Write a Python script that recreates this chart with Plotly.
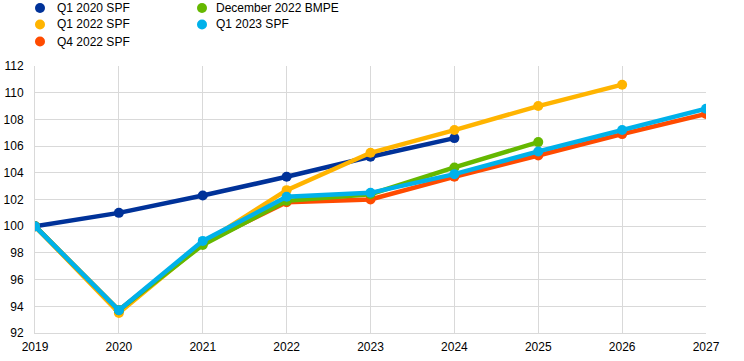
import plotly.graph_objects as go

years = [2019, 2020, 2021, 2022, 2023, 2024, 2025, 2026, 2027]

q1_2020_spf = [100.0, 101.0, 102.3, 103.7, 105.2, 106.6]
q1_2022_spf = [100.0, 93.5, 98.7, 102.7, 105.5, 107.2, 109.0, 110.6]
q4_2022_spf = [100.0, 93.7, 98.7, 101.8, 102.0, 103.7, 105.3, 106.9, 108.4]
dec_2022_bmpe = [100.0, 93.7, 98.6, 101.9, 102.4, 104.4, 106.3]
q1_2023_spf = [100.0, 93.7, 98.9, 102.2, 102.5, 103.9, 105.6, 107.2, 108.8]

y_ticks = [92, 94, 96, 98, 100, 102, 104, 106, 108, 110, 112]

names = ["Q1 2020 SPF", "Q1 2022 SPF", "Q4 2022 SPF", "December 2022 BMPE", "Q1 2023 SPF"]
values = [q1_2020_spf, q1_2022_spf, q4_2022_spf, dec_2022_bmpe, q1_2023_spf]
colors = ["#003299", "#FFB400", "#FF4B00", "#65B800", "#00B1EA"]

# page layout (pixels)
W, H = 744, 361
ML, MR, MT, MB = 35, 38, 66, 28
PW, PH = W - ML - MR, H - MT - MB

def px_to_paper_x(px):
    return (px - ML) / PW

def px_to_paper_y(py):
    return (H - MB - py) / PH

# legend slots: (marker centre x, text start x, row centre y)
legend_slots = [(40, 55, 8), (40, 55, 24.5), (40, 55, 41.5), (202, 214, 8), (202, 214, 24.5)]

fig = go.Figure()
for name, vals, color in zip(names, values, colors):
    fig.add_trace(go.Scatter(
        x=years[:len(vals)], y=vals, mode="lines+markers", name=name,
        line=dict(color=color, width=4.5), marker=dict(color=color, size=10),
        showlegend=False,
    ))

shapes = []
annotations = []
for name, color, (mx, tx, ry) in zip(names, colors, legend_slots):
    shapes.append(dict(
        type="circle", xref="paper", yref="paper",
        xsizemode="pixel", ysizemode="pixel",
        xanchor=px_to_paper_x(mx), yanchor=px_to_paper_y(ry),
        x0=-5, x1=5, y0=-5, y1=5,
        fillcolor=color, line=dict(width=0), layer="above",
    ))
    annotations.append(dict(
        text=name, xref="paper", yref="paper",
        x=px_to_paper_x(tx), y=px_to_paper_y(ry),
        xanchor="left", yanchor="middle", showarrow=False,
        font=dict(size=12, color="#000000"),
    ))

fig.update_layout(
    width=W, height=H,
    margin=dict(l=ML, r=MR, t=MT, b=MB, autoexpand=False),
    paper_bgcolor="white", plot_bgcolor="white",
    font=dict(family="Liberation Sans, Arial, sans-serif", size=12, color="#000000"),
    showlegend=False,
    shapes=shapes, annotations=annotations,
    xaxis=dict(
        range=[2019, 2027], tickvals=years, ticktext=[str(y) for y in years],
        showgrid=True, gridcolor="#D9D9D9", gridwidth=1,
        showline=True, linecolor="#D9D9D9", linewidth=1,
        zeroline=False, ticks="", tickfont=dict(size=12),
        ticklabelstandoff=3,
    ),
    yaxis=dict(
        range=[92, 112], tickvals=y_ticks,
        showgrid=True, gridcolor="#D9D9D9", gridwidth=1,
        showline=True, linecolor="#D9D9D9", linewidth=1,
        zeroline=False, ticks="", tickfont=dict(size=12),
        ticklabelstandoff=8,
    ),
)

fig.write_html(
    "out.html",
    config={"displayModeBar": False},
    post_script="document.body.style.margin='0';document.body.style.padding='0';",
)
